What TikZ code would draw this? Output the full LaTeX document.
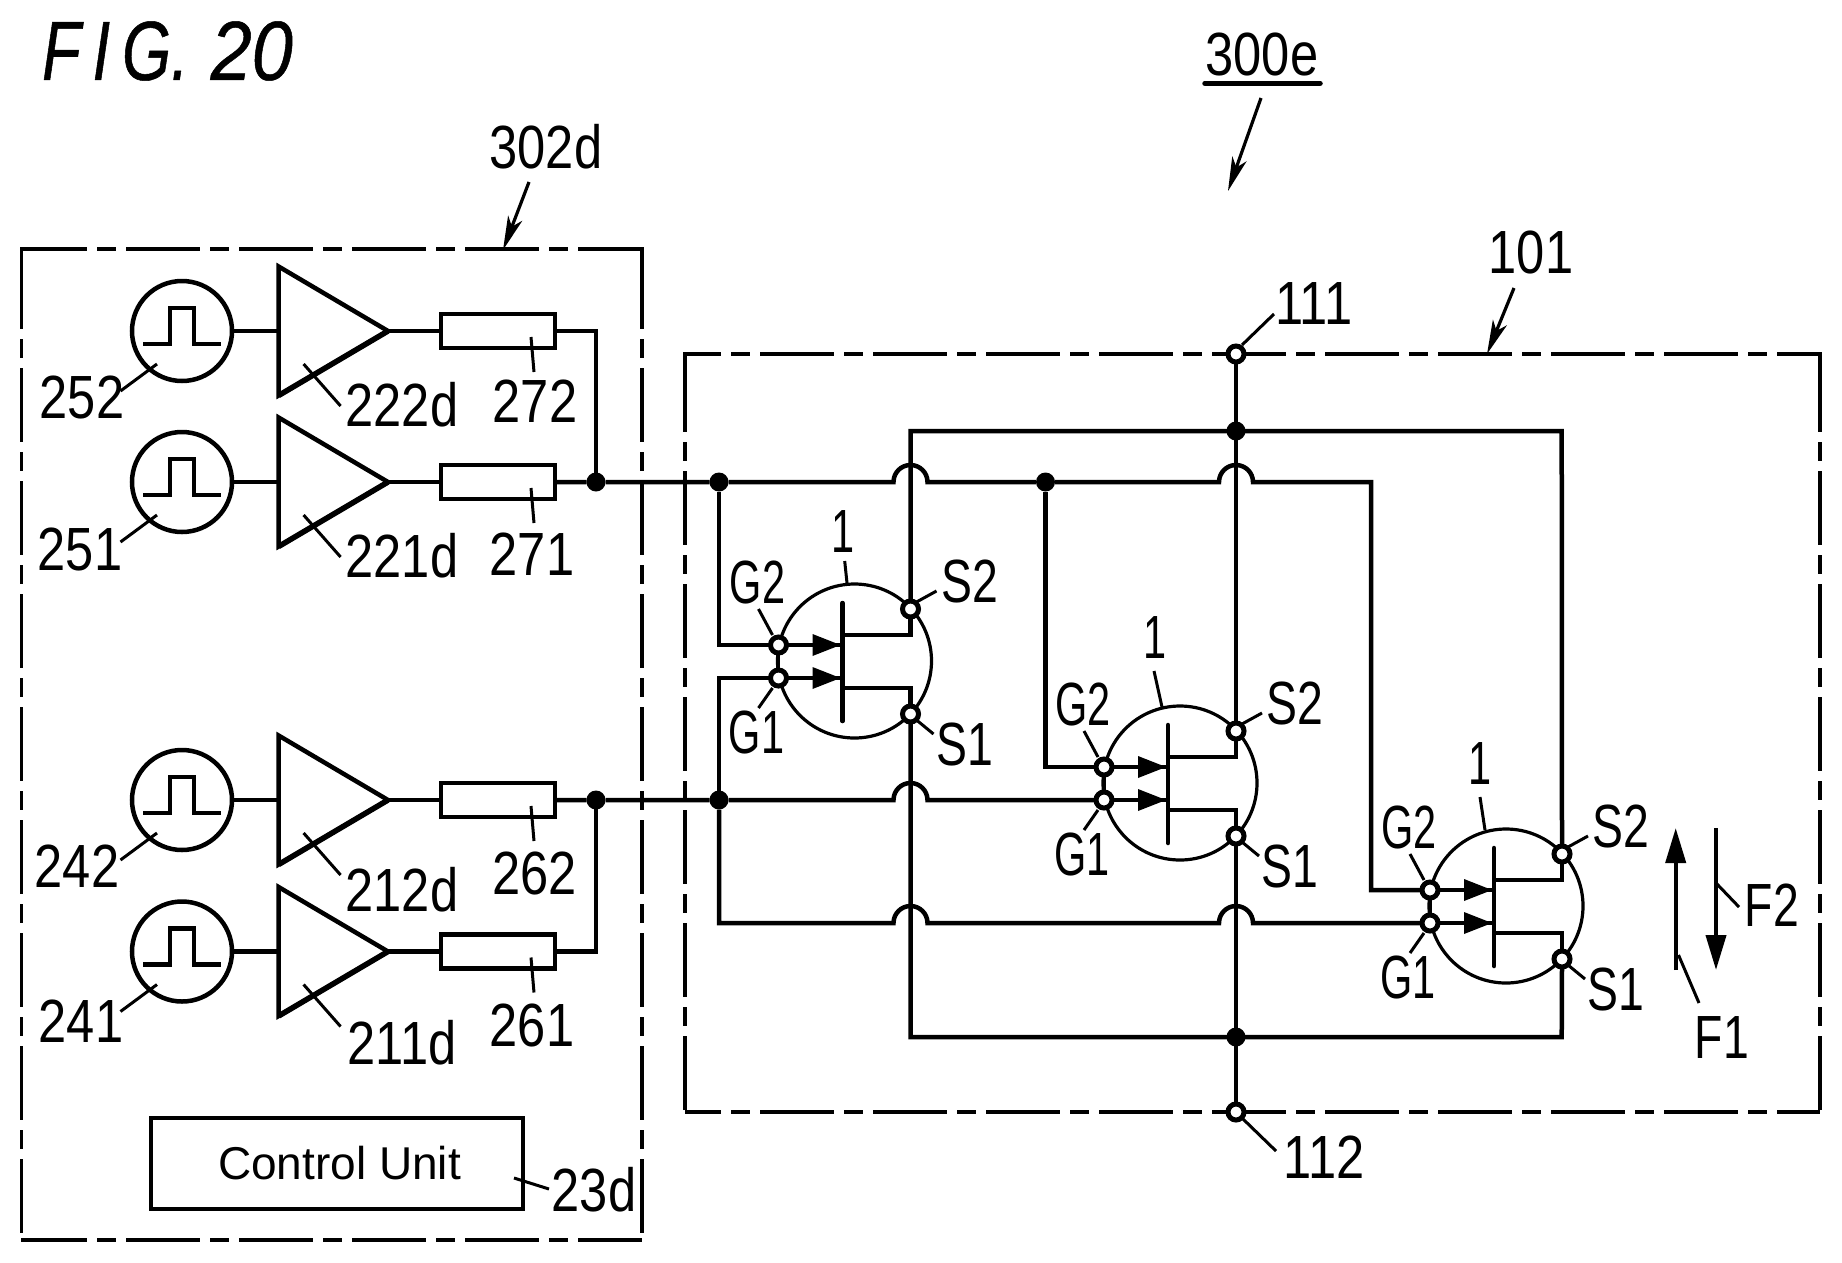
\documentclass[tikz,border=0pt]{standalone}
\usepackage{fontspec}
\setmainfont[FakeStretch=0.83]{Liberation Sans}
\newfontfamily\narrowf[FakeStretch=0.68]{Liberation Sans}
\newfontfamily\midf[FakeStretch=0.76]{Liberation Sans}
\newfontfamily\figf[FakeStretch=0.75,FakeBold=0.6]{Liberation Sans}
\newfontfamily\figd[FakeStretch=0.88,FakeBold=0.6]{Liberation Sans}
\newfontfamily\widef{Liberation Sans}
\usetikzlibrary{arrows.meta,calc}
\tikzset{
  wire/.style={line width=4.5pt,line join=miter},
  thinwire/.style={line width=3.2pt},
  leader/.style={line width=3pt},
  dashbox/.style={line width=3.6pt,dash pattern=on 74pt off 10pt on 19pt off 10pt},
  lab/.style={font=\fontsize{61}{61}\selectfont,inner sep=0pt,outer sep=0pt},
  nlab/.style={font=\fontsize{61}{61}\selectfont\narrowf,inner sep=0pt,outer sep=0pt},
  mlab/.style={font=\fontsize{61}{61}\selectfont\midf,inner sep=0pt,outer sep=0pt},
  term/.style={circle,draw,fill=white,line width=5pt,minimum size=16pt,inner sep=0pt,outer sep=0pt},
  dot/.style={circle,fill=black,minimum size=19pt,inner sep=0pt,outer sep=0pt},
  osc/.style={circle,draw,line width=4.5pt,minimum size=100pt,inner sep=0pt,outer sep=0pt},
  res/.style={rectangle,draw,line width=4.5pt,minimum width=114pt,minimum height=34pt,inner sep=0pt,outer sep=0pt},
  refarrow/.style={line width=3.2pt,-{Stealth[length=34pt,width=15pt,inset=9pt]}},
  flow/.style={line width=4pt,-{Triangle[length=35pt,width=20pt]}}
}
\newcommand{\lead}[5]{% name x1 y1 x2 y2
  \coordinate (#1a) at (#2,#3);
  \coordinate (#1b) at (#4,#5);
  \draw[leader] (#1a) -- (#1b);
}
\newcommand{\drvrow}[2]{%
  \node[osc] (osc#1) at (182,#2) {};
  \begin{scope}[shift={(0,#2)}]
    \draw[wire] (143,13) -- (170,13) -- (170,-23) -- (194,-23) -- (194,13) -- (221,13);
    \coordinate (amp#1in) at (278.6,0);
    \coordinate (amp#1tip) at (388,0);
    \draw[wire,line join=miter] (278.6,-64.5) -- (amp#1tip) -- (278.6,64.5) -- cycle;
    \draw[line width=5.5pt] (amp#1tip) -- (278.6,64.5);
    \node[res] (res#1) at (498,0) {};
    \draw[wire] (osc#1.east) -- (amp#1in);
    \draw[wire] (amp#1tip) -- (res#1.west);
    \lead{ls#1}{120.5}{60}{157}{33}
    \lead{la#1}{303.6}{33}{340.6}{75}
    \lead{lr#1}{531}{6}{534}{41}
  \end{scope}
}
\newcommand{\fetunit}[3]{%
  \begin{scope}[shift={(#2,#3)}]
    \draw[thinwire] (76,16) circle[radius=77];
    \coordinate (#1g2) at (0,0);
    \coordinate (#1g1) at (0,33);
    \coordinate (#1s2) at (132,-36);
    \coordinate (#1s1) at (132,69);
    \coordinate (#1ba) at (64,-42);
    \coordinate (#1bb) at (64,76);
    \draw[line width=4.5pt,line cap=round] (#1ba) -- (#1bb);
    \draw[wire] (64,-10) -| (#1s2);
    \draw[wire] (64,43) -| (#1s1);
    \draw[thinwire] (#1g2) -- (#1g1);
    \draw[wire] (#1g2) -- (64,0);
    \draw[wire] (#1g1) -- (64,33);
    \fill (34,-11) -- (62,0) -- (34,11) -- cycle;
    \fill (34,22) -- (62,33) -- (34,44) -- cycle;
    \node[term] (#1tg2) at (#1g2) {};
    \node[term] (#1tg1) at (#1g1) {};
    \node[term] (#1ts2) at (#1s2) {};
    \node[term] (#1ts1) at (#1s1) {};
    \lead{#1lg2}{-20}{-36}{-6}{-10}
    \lead{#1lg1}{-20}{63}{-6}{43}
    \lead{#1ls2}{158}{-54}{138}{-43}
    \lead{#1ls1}{155}{89}{138}{75}
    \node[nlab] (#1n2) at (-21,-63) {G2};
    \node[nlab] (#1n1) at (-22,87) {G1};
    \node[mlab] (#1m2) at (191,-64) {S2};
    \node[mlab] (#1m1) at (186,99) {S1};
  \end{scope}
}
\begin{document}
\begin{tikzpicture}[x=1pt,y=-1pt]
\useasboundingbox (0,0) rectangle (1842,1262);
\fill[white] (0,0) rectangle (1842,1262);
% box 302d
\draw[dashbox,dash phase=8.4pt] (21.4,249) -- (642,249);
\draw[dashbox,dash phase=8.4pt] (21.4,1240) -- (642,1240);
\draw[dashbox,dash phase=107pt] (21.4,249) -- (21.4,1240);
\draw[dashbox,dash phase=107pt] (642,249) -- (642,1240);
\draw[line width=3.6pt] (21.4,247.2) -- (21.4,256);
\draw[line width=3.6pt] (642,247.2) -- (642,256);
% box 101
\draw[dashbox,dash phase=38pt] (685,354) -- (1820,354);
\draw[dashbox,dash phase=38pt] (685,1112) -- (1820,1112);
\draw[dashbox,dash phase=109pt] (685,354) -- (685,1112);
\draw[dashbox,dash phase=109pt] (1820,354) -- (1820,1112);
\draw[line width=3.6pt] (685,352.2) -- (685,359);
\draw[line width=3.6pt] (1820,352.2) -- (1820,359);
% titles
\node[font=\fontsize{84}{84}\selectfont\figf\itshape,inner sep=0pt] (fig) at (167.5,51) {F\hspace{12pt}I\hspace{12pt}G.\hspace{22pt}{\figd\itshape 20}};
\node[lab] (t300e) at (1262,54) {300e};
\coordinate (ula) at (1205,83.3); \coordinate (ulb) at (1320,83.3);
\draw[line width=5.5pt,line cap=round] (ula) -- (ulb);
\coordinate (a300a) at (1261,98); \coordinate (a300b) at (1228,191);
\draw[refarrow] (a300a) -- (a300b);
\node[lab] (t302d) at (546,147) {302d};
\coordinate (a302a) at (529,182); \coordinate (a302b) at (503,250);
\draw[refarrow] (a302a) -- (a302b);
\node[lab] (t101) at (1531,252.5) {101};
\coordinate (a101a) at (1514,288); \coordinate (a101b) at (1487,354);
\draw[refarrow] (a101a) -- (a101b);
% drivers
\drvrow{252}{331}
\drvrow{251}{482}
\drvrow{242}{800}
\drvrow{241}{951.5}
\node[lab] (n252) at (82,397) {252};
\node[lab] (n222d) at (402,405) {222d};
\node[lab] (n272) at (535,401) {272};
\node[lab] (n251) at (80,549) {251};
\node[lab] (n221d) at (402,556) {221d};
\node[lab] (n271) at (532,554) {271};
\node[lab] (n242) at (77,866) {242};
\node[lab] (n212d) at (402,890) {212d};
\node[lab] (n262) at (534.5,873) {262};
\node[lab] (n241) at (81,1021) {241};
\node[lab] (n211d) at (402,1043) {211d};
\node[lab] (n261) at (532,1025) {261};
% control unit
\node[draw,line width=4.5pt,minimum width=372pt,minimum height=91pt,inner sep=0pt,outer sep=0pt,font=\fontsize{46}{46}\selectfont\widef] (cu) at (337,1163.5) {\hspace{5pt}Control Unit};
\node[lab] (n23d) at (594,1189.5) {23d};
\lead{lcu}{514}{1178}{549}{1189}
% junctions in driver
\coordinate (jp) at (596,482);
\coordinate (jq) at (596,800);
\draw[wire] (res252.east) -| (jp);
\draw[wire] (res241.east) -| (jq);
% FETs
\fetunit{fa}{778.5}{645}
\fetunit{fb}{1104}{767}
\fetunit{fc}{1430}{890}
% device number labels
\node[nlab] (oa) at (843.5,532) {1};
\lead{loa}{844.7}{561}{847}{583}
\node[nlab] (ob) at (1155,638) {1};
\lead{lob}{1154}{671}{1162}{707}
\node[nlab] (oc) at (1480,764) {1};
\lead{loc}{1480}{797}{1485}{830}
% main vertical
\node[term] (n111) at (1236,354) {};
\node[term] (n112) at (1236,1112) {};
\node[dot] (jt) at (1236,431) {};
\node[dot] (jb) at (1236,1037) {};
\draw[wire] (n111) -- (fbts2);
\draw[wire] (fbts1) -- (n112);
\coordinate (ctl) at (910.5,431); \coordinate (ctr) at (1561.7,431);
\coordinate (cbl) at (910.5,1037); \coordinate (cbr) at (1561.7,1037);
\draw[wire] (fats2.north) -- (ctl) -- (ctr) -- (fcts2.north);
\draw[wire] (fats1.south) -- (cbl) -- (cbr) -- (fcts1.south);
% gate bus
\node[dot] (d1) at (719,482) {};
\node[dot] (d2) at (1045.5,482) {};
\node[dot] (d3) at (719,800) {};
\node[dot] (dp) at (jp) {};
\node[dot] (dq) at (jq) {};
\coordinate (xa) at (910.5,482);
\coordinate (xb) at (1236,482);
\coordinate (xc) at (910.5,800);
\coordinate (xd) at (910.5,923);
\coordinate (xe) at (1236,923);
\coordinate (bc) at (1371,482);
\coordinate (cc) at (719,923);
\draw[wire] (res251.east) -- (dp) -- (d1) -- ([xshift=-17pt]xa) arc[start angle=180,end angle=360,radius=17] -- (d2) -- ([xshift=-17pt]xb) arc[start angle=180,end angle=360,radius=17] -- (bc) |- (fctg2.west);
\draw[wire] (d1) |- (fatg2.west);
\draw[wire] (d2) |- (fbtg2.west);
\draw[wire] (res242.east) -- (dq) -- (d3) -- ([xshift=-17pt]xc) arc[start angle=180,end angle=360,radius=17] -- (fbtg1.west);
\draw[wire] (d3) |- (fatg1.west);
\draw[wire] (d3) -- (cc) -- ([xshift=-17pt]xd) arc[start angle=180,end angle=360,radius=17] -- ([xshift=-17pt]xe) arc[start angle=180,end angle=360,radius=17] -- (fctg1.west);
% terminal labels
\node[lab] (t111) at (1314,304) {111};
\lead{l111}{1274}{314}{1242}{345}
\node[lab] (t112) at (1324,1157) {112};
\lead{l112}{1276}{1151}{1243}{1119}
% flow arrows
\coordinate (fua) at (1675.7,970); \coordinate (fub) at (1675.7,828);
\draw[flow] (fua) -- (fub);
\coordinate (fda) at (1716,828); \coordinate (fdb) at (1716,970);
\draw[flow] (fda) -- (fdb);
\lead{lf1}{1678.5}{955}{1699}{1003}
\lead{lf2}{1716}{883}{1739}{907}
\node[mlab] (f1) at (1722,1037) {F1};
\node[mlab] (f2) at (1772,905) {F2};
\end{tikzpicture}
\end{document}
